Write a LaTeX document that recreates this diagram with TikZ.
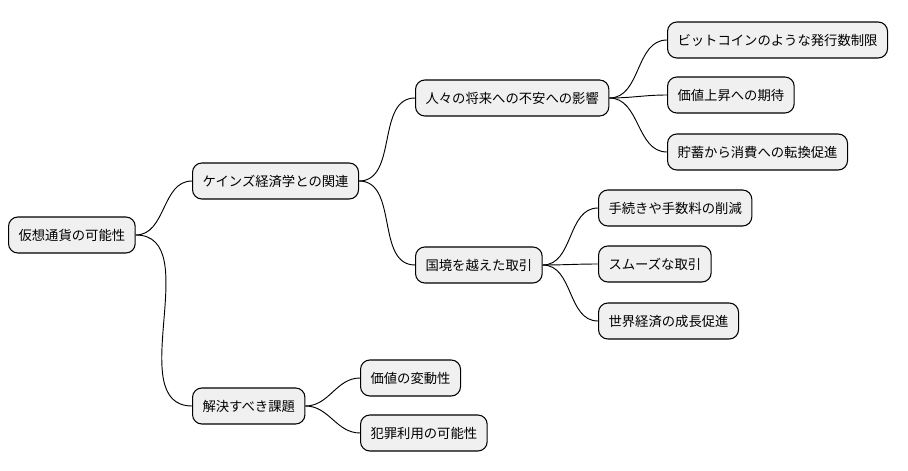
\documentclass[tikz,border=0pt]{standalone}
\usepackage{fontspec}
\newfontfamily\cjk{Noto Sans CJK JP}
\begin{document}
\begin{tikzpicture}[x=0.75pt,y=-0.75pt,
  box/.style={draw=black,line width=0.8pt,fill=black!6,rounded corners=7pt,anchor=west,minimum height=27pt,inner xsep=7.5pt,font=\cjk\fontsize{10}{12}\selectfont},
  link/.style={draw=black,line width=0.7pt}]
\useasboundingbox (0,0) rectangle (908,471);
\node[box] (r) at (8,235) {仮想通貨の可能性};
\node[box] (k) at (192,181) {ケインズ経済学との関連};
\node[box] (s) at (192,406) {解決すべき課題};
\node[box] (a) at (415,98) {人々の将来への不安への影響};
\node[box] (b) at (415,265) {国境を越えた取引};
\node[box] (a1) at (667,40) {ビットコインのような発行数制限};
\node[box] (a2) at (667,95) {価値上昇への期待};
\node[box] (a3) at (667,152) {貯蓄から消費への転換促進};
\node[box] (b1) at (598,208) {手続きや手数料の削減};
\node[box] (b2) at (598,264) {スムーズな取引};
\node[box] (b3) at (598,321) {世界経済の成長促進};
\node[box] (s1) at (360,378) {価値の変動性};
\node[box] (s2) at (360,433) {犯罪利用の可能性};
\foreach \p/\c in {r/k,r/s,k/a,k/b,a/a1,a/a2,a/a3,b/b1,b/b2,b/b3,s/s1,s/s2}
  \draw[link] (\p.east) to[out=0,in=180] (\c.west);
\end{tikzpicture}
\end{document}
